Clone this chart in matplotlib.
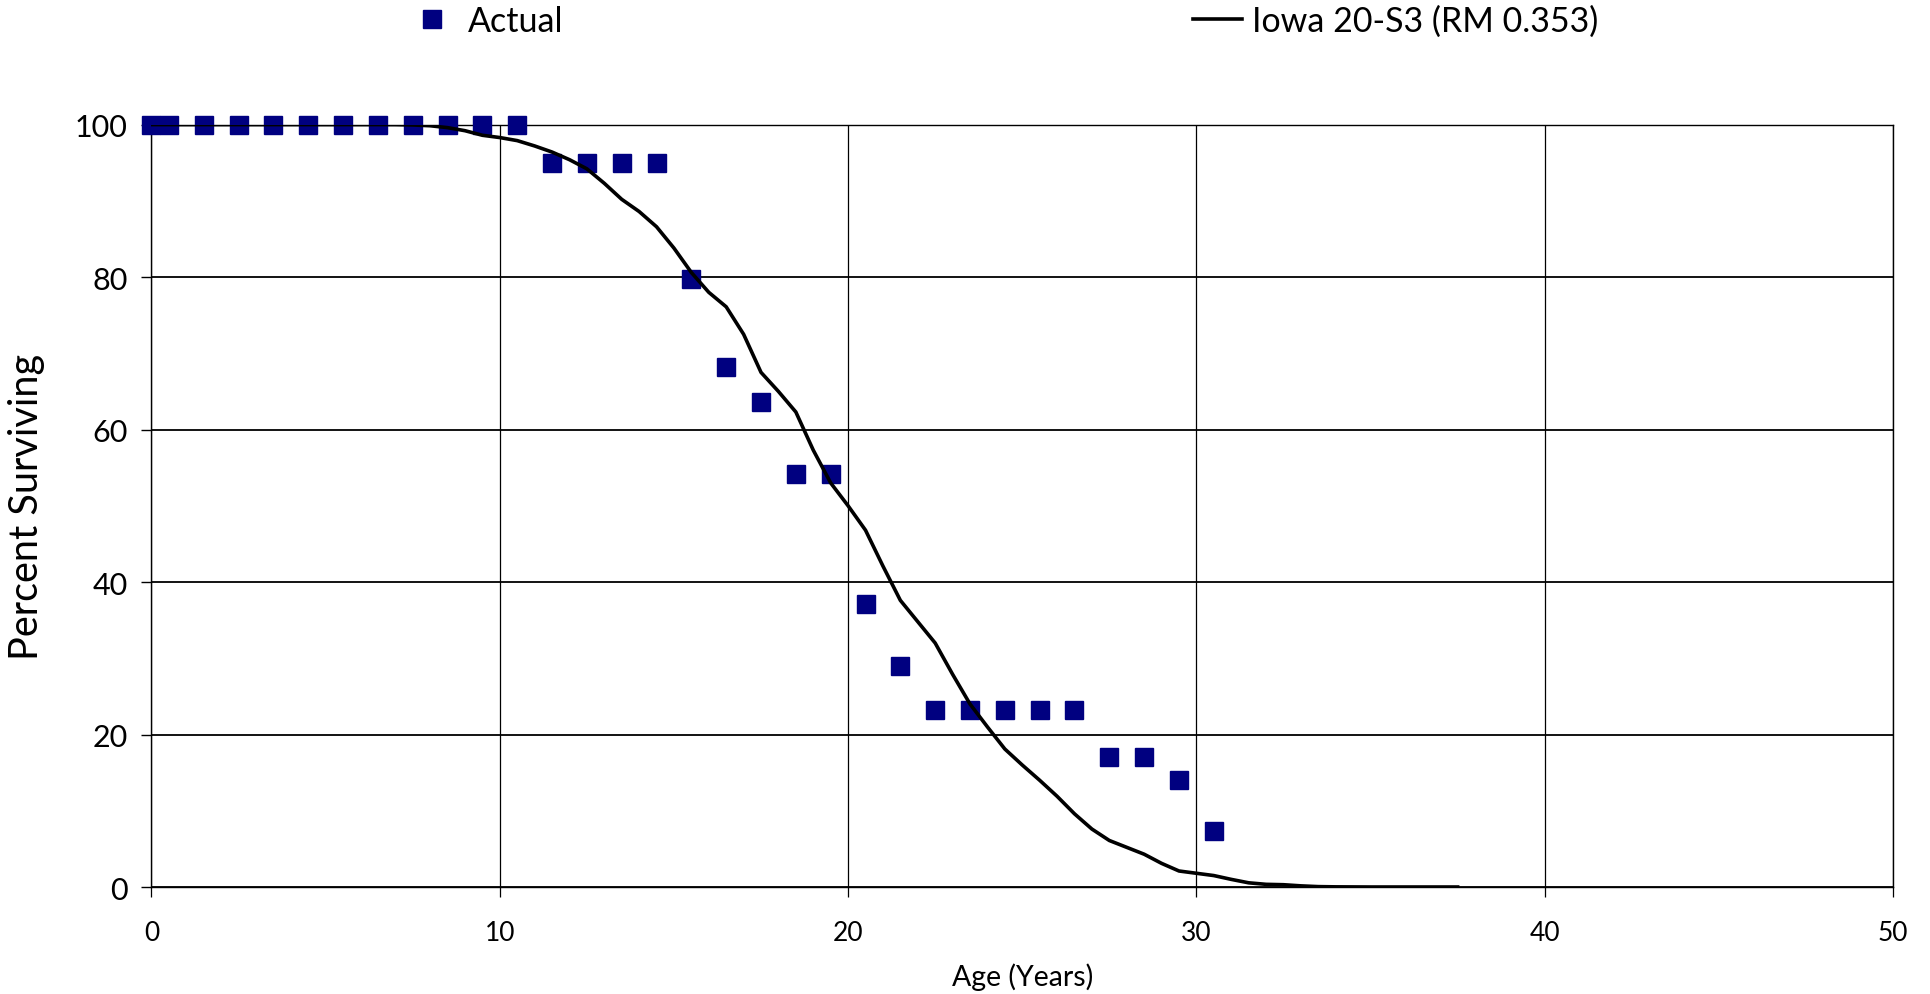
import matplotlib
matplotlib.use("Agg")
import matplotlib.pyplot as plt

plt.rcParams['font.family'] = ['Lato', 'DejaVu Sans']

# Actual survival data
actual_age = [0, 0.5, 1.5, 2.5, 3.5, 4.5, 5.5, 6.5, 7.5, 8.5, 9.5, 10.5,
              11.5, 12.5, 13.5, 14.5, 15.5, 16.5, 17.5, 18.5, 19.5, 20.5,
              21.5, 22.5, 23.5, 24.5, 25.5, 26.5, 27.5, 28.5, 29.5, 30.5]
actual_pct = [100, 100, 100, 100, 100, 100, 100, 100, 100, 100, 100, 100,
              95.0, 95.0, 95.0, 95.0, 79.8, 68.2, 63.6, 54.2, 54.2, 37.1,
              29.0, 23.2, 23.2, 23.2, 23.2, 23.2, 17.1, 17.1, 14.0, 7.3]

# Iowa 20-S3 curve
iowa_age = [0, 0.5, 1, 1.5, 2, 2.5, 3, 3.5, 4, 4.5, 5, 5.5, 6, 6.5, 7, 7.5,
            8, 8.5, 9, 9.5, 10, 10.5, 11, 11.5, 12, 12.5, 13, 13.5, 14, 14.5,
            15, 15.5, 16, 16.5, 17, 17.5, 18, 18.5, 19, 19.5, 20, 20.5, 21,
            21.5, 22, 22.5, 23, 23.5, 24, 24.5, 25, 25.5, 26, 26.5, 27, 27.5,
            28, 28.5, 29, 29.5, 30, 30.5, 31, 31.5, 32, 32.5, 33, 33.5, 34,
            34.5, 35, 35.5, 36, 36.5, 37, 37.5]
iowa_pct = [100, 100, 100, 100, 100, 100, 100, 100, 100, 100, 100, 100, 100,
            100, 100, 99.95, 99.85, 99.6, 99.2, 98.6, 98.3, 97.9, 97.2, 96.4,
            95.4, 94.2, 92.3, 90.2, 88.6, 86.6, 83.8, 80.6, 78.0, 76.1, 72.5,
            67.5, 65.0, 62.3, 57.3, 53.0, 50.0, 46.8, 42.1, 37.6, 34.8, 32.0,
            27.9, 24.0, 21.0, 18.1, 16.0, 14.0, 11.9, 9.6, 7.6, 6.1, 5.2, 4.3,
            3.1, 2.1, 1.8, 1.5, 1.0, 0.55, 0.35, 0.3, 0.15, 0.05, 0.02, 0.01,
            0, 0, 0, 0, 0, 0]

x_ticks = [0, 10, 20, 30, 40, 50]
y_ticks = [0, 20, 40, 60, 80, 100]

fig = plt.figure(figsize=(19.31, 9.95), dpi=100)
ax = fig.add_axes([151.5 / 1931, 1 - 888 / 995, 1741.5 / 1931, 762.4 / 995])

ax.plot(actual_age, actual_pct, linestyle='none', marker='s', markersize=13,
        color='#000080', markeredgecolor='#000080', clip_on=False, zorder=3,
        label='Actual')
ax.plot(iowa_age, iowa_pct, color='black', linewidth=2.6, zorder=4,
        label='Iowa 20-S3 (RM 0.353)')

ax.set_xlim(0, 50)
ax.set_ylim(0, 100)
ax.set_xticks(x_ticks)
ax.set_yticks(y_ticks)
ax.grid(axis='y', color='black', linewidth=1.3)
ax.grid(axis='x', color='black', linewidth=0.9)
ax.set_axisbelow(True)
for s in ax.spines.values():
    s.set_color('black')
    s.set_linewidth(1.0)

ax.tick_params(axis='x', direction='out', length=7.5, width=0.9,
               labelsize=19, pad=16)
ax.tick_params(axis='y', direction='out', length=7.2, width=1.0,
               labelsize=22, pad=10)

ax.set_xlabel('Age (Years)', fontsize=20.5, va='center')
ax.xaxis.set_label_coords(0.5, -0.117)
ax.set_ylabel('Percent Surviving', fontsize=28.5, va='center')
ax.yaxis.set_label_coords((27 - 151.5) / 1741.5, 0.5)

fig.legend(loc='center left', bbox_to_anchor=(408 / 1931, 1 - 22 / 995),
           ncol=2, frameon=False, fontsize=24.5, borderpad=0,
           borderaxespad=0, handlelength=1.44, handletextpad=0.31,
           columnspacing=18.5, markerscale=0.95)

fig.savefig('out.png', dpi=100)
